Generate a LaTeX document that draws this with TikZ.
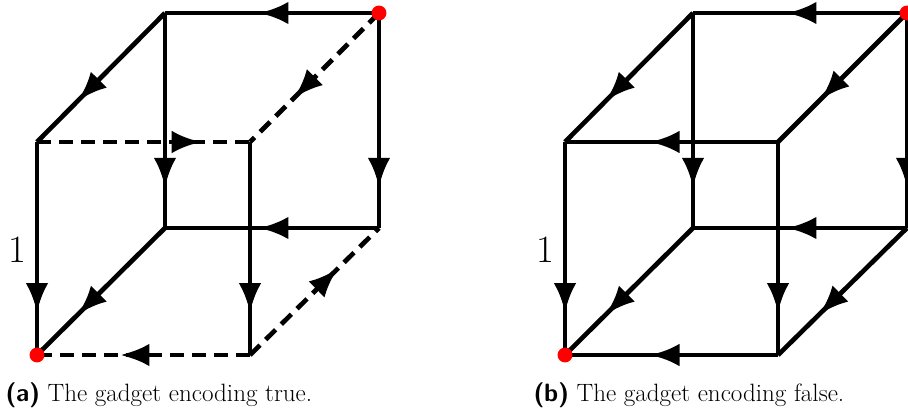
\documentclass[tikz,border=0pt]{standalone}
\usepackage{fontspec}
\usetikzlibrary{arrows.meta,decorations.markings}

\tikzset{every picture/.style={line width=0.75pt}}
\tikzset{
  edge/.style={line width=3.5pt},
  dashedge/.style={edge, dash pattern=on 10.5pt off 6pt},
  tipat/.style={postaction={decorate}, decoration={markings, mark=at position #1 with {\arrow{Latex[length=22pt,width=17pt]}}}},
  gadgetdot/.style={fill={rgb,255:red,255;green,0;blue,0}},
  caption/.style={anchor=base west, inner sep=0pt, font=\fontsize{18.8}{22}\selectfont},
}

\begin{document}
\begin{tikzpicture}[x=0.75pt,y=0.75pt,yscale=-1,xscale=1]
\useasboundingbox (0,0) rectangle (908,410);

%Cube corners, b = a shifted right
\foreach \c/\dx in {a/0,b/528}{
  \coordinate (\c-btl) at (165+\dx,13);
  \coordinate (\c-btr) at (379+\dx,13);
  \coordinate (\c-ftl) at (37+\dx,142);
  \coordinate (\c-ftr) at (250+\dx,142);
  \coordinate (\c-bbl) at (165+\dx,228);
  \coordinate (\c-bbr) at (379+\dx,228);
  \coordinate (\c-fbl) at (37+\dx,355);
  \coordinate (\c-fbr) at (250+\dx,355);
}

%Gadget true
\draw [edge, tipat=0.56] (a-btr) -- (a-btl);
\draw [edge, tipat=0.68] (a-btl) -- (a-ftl);
\draw [dashedge, tipat=0.66] (a-btr) -- (a-ftr);
\draw [dashedge, tipat=0.77] (a-ftl) -- (a-ftr);
\draw [edge, tipat=0.81] (a-btl) -- (a-bbl);
\draw [edge, tipat=0.81] (a-btr) -- (a-bbr);
\draw [edge, tipat=0.56] (a-bbr) -- (a-bbl);
\draw [edge, tipat=0.80] (a-ftl) -- (a-fbl);
\draw [edge, tipat=0.68] (a-bbl) -- (a-fbl);
\draw [edge, tipat=0.80] (a-ftr) -- (a-fbr);
\draw [dashedge, tipat=0.68] (a-fbr) -- (a-bbr);
\draw [dashedge, tipat=0.61] (a-fbr) -- (a-fbl);

%Gadget false
\draw [edge, tipat=0.56] (b-btr) -- (b-btl);
\draw [edge, tipat=0.68] (b-btl) -- (b-ftl);
\draw [edge, tipat=0.67] (b-btr) -- (b-ftr);
\draw [edge, tipat=0.60] (b-ftr) -- (b-ftl);
\draw [edge, tipat=0.81] (b-btl) -- (b-bbl);
\draw [edge, tipat=0.81] (b-btr) -- (b-bbr);
\draw [edge, tipat=0.56] (b-bbr) -- (b-bbl);
\draw [edge, tipat=0.80] (b-ftl) -- (b-fbl);
\draw [edge, tipat=0.68] (b-bbl) -- (b-fbl);
\draw [edge, tipat=0.80] (b-ftr) -- (b-fbr);
\draw [edge, tipat=0.68] (b-bbr) -- (b-fbr);
\draw [edge, tipat=0.60] (b-fbr) -- (b-fbl);

%Start and end dots
\foreach \c in {a,b}{
  \fill [gadgetdot] (\c-btr) circle [radius=5.6pt];
  \fill [gadgetdot] (\c-fbl) circle [radius=5.6pt];
}

% Text Node
\node [inner sep=0pt, font=\fontsize{29}{30}\selectfont] (a-one) at (17,249.5) {1};
% Text Node
\node [inner sep=0pt, font=\fontsize{29}{30}\selectfont] (b-one) at (545,249.5) {1};
% Text Node
\node [caption] (a-cap) at (5,401) {\textsf{\textbf{(a)}}\hspace{0.3em}The gadget encoding true.};
% Text Node
\node [caption] (b-cap) at (533,401) {\textsf{\textbf{(b)}}\hspace{0.3em}The gadget encoding false.};

\end{tikzpicture}
\end{document}
